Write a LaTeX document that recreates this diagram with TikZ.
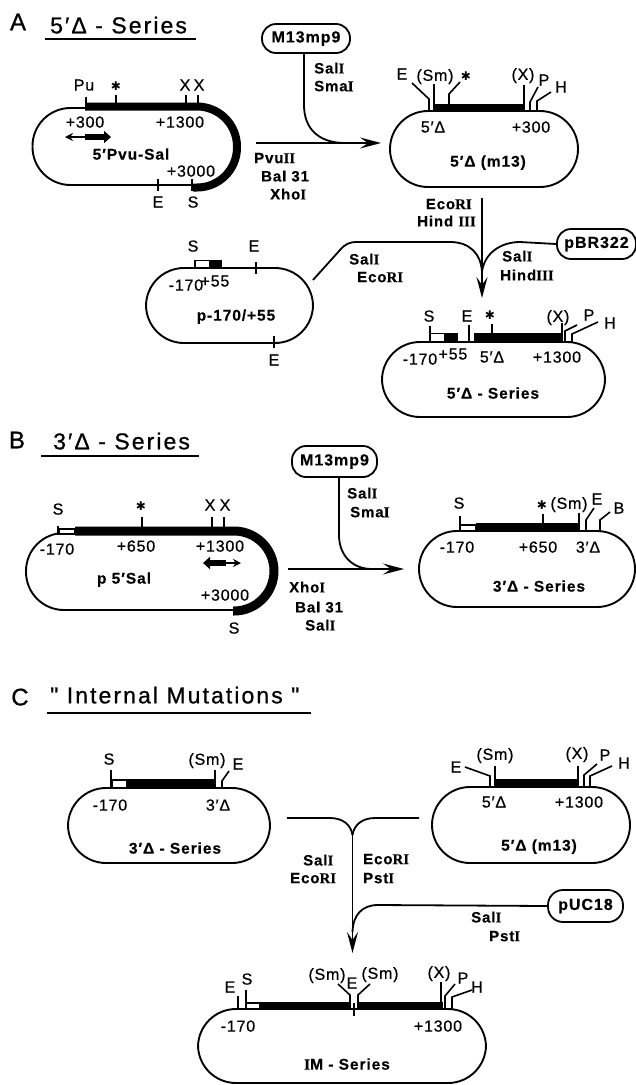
\documentclass[tikz,border=0pt]{standalone}
\usepackage{fontspec}
\setmainfont{Liberation Sans}
\newfontfamily\lsp[LetterSpace=5,FakeBold=0.6]{Liberation Sans}
\newfontfamily\bsp[LetterSpace=6,FakeBold=0.3]{Liberation Sans Bold}
\newfontfamily\tsp[LetterSpace=9,FakeBold=0.8]{Liberation Sans}
\newfontfamily\serfam[FakeBold=0.3]{Liberation Serif Bold}
\newfontfamily\bigf[FakeBold=0.8]{Liberation Sans}
\newfontfamily\djv{DejaVu Sans}
\newcommand{\rn}[1]{{\serfam #1}}
\newcommand{\stsym}{{\djv\bfseries ✱}}
\usetikzlibrary{arrows.meta}
\tikzset{
  pill/.style={draw,line width=1.9pt,inner sep=0pt,fill=none,minimum width=#1},
  p38/.style={rounded corners=38pt,minimum height=76pt},
  vec/.style={draw,line width=1.8pt,inner sep=0pt,rounded corners=14pt,minimum height=29pt,font=\fontsize{16}{16}\bsp},
  lab/.style={inner sep=0pt,text depth=0pt,font=\fontsize{16}{16}\lsp},
  bname/.style={inner sep=0pt,text depth=0pt,font=\fontsize{15.5}{16}\bsp},
  enz/.style={inner sep=0pt,text depth=0pt,anchor=west,font=\fontsize{15}{16}\bsp},
  big/.style={inner sep=0pt,text depth=0pt,font=\fontsize{24}{24}\bigf},
  ttl/.style={inner sep=0pt,text depth=0pt,anchor=west,font=\fontsize{23}{24}\tsp},
  star/.style={inner sep=0pt,text depth=0pt,font=\fontsize{12}{12}\selectfont},
  ul/.style={line width=2pt},
  tick/.style={line width=1.6pt},
  conn/.style={line width=1.8pt},
  dna/.style={line width=8pt},
  wbar/.style={fill=white,draw=black,line width=1.3pt},
  head/.style={-{Stealth[length=21pt,width=11pt,inset=8pt]}},
}
\begin{document}
\begin{tikzpicture}[x=1pt,y=-1pt]
\useasboundingbox (0,0) rectangle (636,1085);
\fill[white] (0,0) rectangle (636,1085);

%% ---------- A ----------
\node[big] (Aa) at (18,22) {A};
\node[ttl] (Ati) at (50,25) {5′Δ - Series};
\draw[ul] (45,38.5) -- (196,38.5);

\node[pill=204pt,p38,minimum height=77pt] (pvu) at (134.5,146.5) {};
\draw[dna,rounded corners=40pt] (85,106.5) -- (237,106.5) -- (237,187.5) -- (193,187.5);
\draw[tick] (86,97)--(86,108) (116,95)--(116,104) (186,95)--(186,104) (198,95)--(198,104);
\draw[tick] (158,179)--(158,191) (192,179)--(192,191);
\node[lab] (a1) at (84,85) {Pu};
\node[star] (a2) at (116,86) {\stsym};
\node[lab] (a3) at (185,85) {X};
\node[lab] (a4) at (199,85) {X};
\node[lab] (a5) at (85,122) {+300};
\node[lab] (a6) at (180,122) {+1300};
\draw[line width=1.3pt,{Stealth[length=8pt,width=8pt]}-] (65,137) -- (85,137);
\draw[line width=6pt,-{Triangle[length=7pt,width=12pt]}] (85,137) -- (111,137);
\node[bname] (a7) at (131,154) {5′Pvu-Sal};
\node[lab] (a8) at (191,171) {+3000};
\node[lab] (a9) at (158,202) {E};
\node[lab] (a10) at (193,202) {S};
\node[enz] (a11) at (254,158) {Pvu\rn{II}};
\node[enz] (a12) at (261,176) {Bal 31};
\node[enz] (a13) at (270,194) {Xho\rn{I}};

\node[vec,minimum width=88pt] (m13a) at (306,38.5) {M13mp9};
\node[enz] (a14) at (314,68) {Sal\rn{I}};
\node[enz] (a15) at (314,86) {Sma\rn{I}};

\node[pill=188pt,p38] (mA) at (484,149) {};
\coordinate (a16) at (256,143);
\draw[conn,head] (a16) -- (381,143);
\draw[conn] ([xshift=-2pt]m13a.south) -- (304,105) .. controls (304,128) and (318,143) .. (345,143);

\fill[black] (433,103.5) rectangle (525,111);
\draw[tick] (429,110)--(429,99)--(412,83);
\draw[tick] (434,84)--(434,110);
\draw[tick] (449,104)--(449,94)--(460,82);
\draw[tick] (524,85)--(524,108);
\draw[tick] (530,110)--(530,102)--(538,87);
\draw[tick] (537,110)--(537,101)--(551,92);
\node[lab] (b1) at (402,74) {E};
\node[lab] (b2) at (435,75) {(Sm)};
\node[star] (b3) at (466,76) {\stsym};
\node[lab] (b4) at (523,74) {(X)};
\node[lab] (b5) at (544,80) {P};
\node[lab] (b6) at (561,87) {H};
\node[lab] (b7) at (433,127) {5′Δ};
\node[lab] (b8) at (531,127) {+300};
\node[bname] (b9) at (488,161) {5′Δ (m13)};
\node[enz,anchor=east] (b10) at (472,204) {Eco\rn{RI}};
\node[enz,anchor=east] (b11) at (476,221) {Hind \rn{III}};

\node[pill=167pt,p38,minimum height=75pt] (p170) at (229.5,305.5) {};
\node[vec,minimum width=79pt,minimum height=30pt] (pbr) at (596.5,244) {pBR322};
\node[pill=223pt,p38,minimum height=75pt] (sA) at (493.5,379.5) {};
\coordinate (c1) at (482,298);
\coordinate (c0) at (482,198);
\coordinate (c2) at (313,280);
\draw[conn,head] (c0) -- (c1);
\draw[conn] (c2) -- (340,250) .. controls (345,244) and (350,242) .. (356,242) -- (450,242) .. controls (470,242) and (481,254) .. (482,272);
\draw[conn] (pbr.west) -- (520,242) .. controls (500,242) and (484,254) .. (482,272);

\draw[tick] (256,262)--(256,274) (274,336)--(274,348);
\draw[wbar] (195,260.5) rectangle (210,268);
\fill[black] (210,260) rectangle (222,268.5);
\node[lab] (d1) at (193,246) {S};
\node[lab] (d2) at (254,246) {E};
\node[lab] (d3) at (274,360) {E};
\node[lab] (d4) at (186,285) {-170};
\node[lab] (d5) at (215,281) {+55};
\node[bname] (d6) at (236,315) {p-170/+55};
\node[enz] (d7) at (349,259) {Sal\rn{I}};
\node[enz] (d8) at (357,277) {Eco\rn{RI}};
\node[enz] (d9) at (502,256) {Sal\rn{I}};
\node[enz] (d10) at (500,275) {Hind\rn{III}};

\draw[wbar] (430,333.5) rectangle (445,342);
\fill[black] (445,333) rectangle (458,342);
\fill[black] (474,333) rectangle (562,342);
\draw[tick] (430,326)--(430,342) (469,325)--(469,342) (492,324)--(492,334) (562,323)--(562,342);
\draw[tick] (565,342)--(565,331)--(577,325);
\draw[tick] (572,342)--(572,334)--(598,322);
\node[lab] (e1) at (429,316) {S};
\node[lab] (e2) at (467,316) {E};
\node[star] (e3) at (490,315) {\stsym};
\node[lab] (e4) at (558,316) {(X)};
\node[lab] (e5) at (589,315) {P};
\node[lab] (e6) at (610,323) {H};
\node[lab] (e7) at (420,359) {-170};
\node[lab] (e8) at (453,354) {+55};
\node[lab] (e9) at (492,357) {5′Δ};
\node[lab] (e10) at (557,357) {+1300};
\node[bname] (e11) at (493,393) {5′Δ - Series};

%% ---------- B ----------
\node[big] (Bb) at (17,440) {B};
\node[ttl] (Bti) at (53,441) {3′Δ - Series};
\draw[ul] (41,456) -- (199,456);

\node[pill=246pt,p38,minimum height=77pt] (p5) at (149,571.5) {};
\draw[wbar] (59,529) rectangle (75,534);
\draw[line width=9pt,rounded corners=40pt] (75,531) -- (274,531) -- (274,611) -- (233,611);
\draw[tick] (58,526)--(58,535) (142,517)--(142,527) (212,517)--(212,527) (224,517)--(224,527);
\node[lab] (f1) at (58,509) {S};
\node[star] (f2) at (141,506) {\stsym};
\node[lab] (f3) at (210,505) {X};
\node[lab] (f4) at (225,505) {X};
\node[lab] (f5) at (57,549) {-170};
\node[lab] (f6) at (136,546) {+650};
\node[lab] (f7) at (220,546) {+1300};
\draw[line width=6pt,{Triangle[length=7pt,width=12pt]}-] (203,563) -- (226,563);
\draw[line width=1.3pt,-{Stealth[length=8pt,width=8pt]}] (226,563) -- (241,563);
\node[bname] (f8) at (124,578) {p 5′Sal};
\node[lab] (f9) at (225,595) {+3000};
\node[lab] (f10) at (234,628) {S};
\node[enz] (f11) at (289,587) {Xho\rn{I}};
\node[enz] (f12) at (295,607) {Bal 31};
\node[enz] (f13) at (305,625) {Sal\rn{I}};

\node[vec,minimum width=85pt,minimum height=31pt] (m13b) at (334.5,461.5) {M13mp9};
\node[enz] (f14) at (347,493) {Sal\rn{I}};
\node[enz] (f15) at (350,512) {Sma\rn{I}};

\node[pill=216pt,p38] (sB) at (527,569) {};
\coordinate (f16) at (288,569);
\draw[conn,head] (f16) -- (404,569);
\draw[conn] ([xshift=4.5pt]m13b.south) -- (339,535) .. controls (339,555) and (352,569) .. (372,569);

\draw[wbar] (460,525) rectangle (476,531);
\fill[black] (476,523) rectangle (580,531.5);
\draw[tick] (460,516)--(460,531) (543,514)--(543,523) (579,513)--(579,531);
\draw[tick] (586,531)--(586,520)--(594,508);
\draw[tick] (600,531)--(600,520)--(610,512);
\node[lab] (g1) at (459,503) {S};
\node[star] (g2) at (542,505) {\stsym};
\node[lab] (g3) at (569,503) {(Sm)};
\node[lab] (g4) at (597,499) {E};
\node[lab] (g5) at (619,508) {B};
\node[lab] (g6) at (457,547) {-170};
\node[lab] (g7) at (538,547) {+650};
\node[lab] (g8) at (588,547) {3′Δ};
\node[bname] (g9) at (539,586) {3′Δ - Series};

%% ---------- C ----------
\node[big] (Cc) at (20,697) {C};
\node[ttl] (Cti) at (50,695) {" Internal Mutations "};
\draw[ul] (47,713) -- (311,713);

\node[pill=202pt,p38,minimum height=75pt] (sC) at (169,825.5) {};
\draw[wbar] (112,780) rectangle (127,788);
\fill[black] (127,779) rectangle (216,788);
\draw[tick] (111,770)--(111,788) (215,770)--(215,788);
\draw[tick] (222,788)--(222,781)--(229,771);
\node[lab] (h1) at (109,759) {S};
\node[lab] (h2) at (207,759) {(Sm)};
\node[lab] (h3) at (238,764) {E};
\node[lab] (h4) at (110,805) {-170};
\node[lab] (h5) at (218,805) {3′Δ};
\node[bname] (h6) at (175,848) {3′Δ - Series};

\node[pill=198pt,p38] (mC) at (531,825) {};
\fill[black] (495,779) rectangle (578,787);
\draw[tick] (490,787)--(490,776)--(465,767);
\draw[tick] (495,766)--(495,787) (578,766)--(578,787);
\draw[tick] (584,787)--(584,775)--(597,764);
\draw[tick] (590,787)--(590,776)--(612,766);
\node[lab] (i1) at (456,767) {E};
\node[lab] (i2) at (495,754) {(Sm)};
\node[lab] (i3) at (577,753) {(X)};
\node[lab] (i4) at (605,755) {P};
\node[lab] (i5) at (624,763) {H};
\node[lab] (i6) at (494,802) {5′Δ};
\node[lab] (i7) at (579,802) {+1300};
\node[bname] (i8) at (539,845) {5′Δ (m13)};

\node[vec,minimum width=75pt,minimum height=32pt,rounded corners=15pt] (puc) at (585.5,906) {pUC18};
\node[pill=288pt,p38,minimum height=74pt] (im) at (342,1046) {};
\coordinate (j1) at (287,818);
\coordinate (j2) at (419,818);
\coordinate (j3) at (352.5,835);
\coordinate (j4) at (352.5,953);
\draw[conn] (j1) -- (330,818) .. controls (343,818) and (351,825) .. (j3);
\draw[conn] (j2) -- (375,818) .. controls (362,818) and (354,825) .. (j3);
\draw[conn,head] (j3) -- (j4);
\draw[conn] (puc.west) -- (378,905) .. controls (362,905) and (353,915) .. (352.5,932);
\node[enz] (j5) at (303,860) {Sal\rn{I}};
\node[enz] (j6) at (290,878) {Eco\rn{RI}};
\node[enz] (j7) at (363,859) {Eco\rn{RI}};
\node[enz] (j8) at (363,878) {Pst\rn{I}};
\node[enz] (j9) at (471,917) {Sal\rn{I}};
\node[enz] (j10) at (489,936) {Pst\rn{I}};

\draw[wbar] (246,1003) rectangle (260,1009);
\fill[black] (260,1002) rectangle (351,1010);
\fill[black] (357,1002) rectangle (443,1010);
\draw[tick] (238,996)--(238,1009) (246,990)--(246,1009);
\draw[tick] (350,1008)--(350,995)--(338,984);
\draw[line width=2pt] (354,1003)--(354,1016);
\draw[tick] (358,1008)--(358,995)--(370,984);
\draw[tick] (441,982)--(441,1009);
\draw[tick] (445,1009)--(445,996)--(455,984);
\draw[tick] (452,1009)--(452,997)--(472,990);
\node[lab] (k1) at (230,987) {E};
\node[lab] (k2) at (247,979) {S};
\node[lab] (k3) at (327,974) {(Sm)};
\node[lab] (k4) at (352,983) {E};
\node[lab] (k5) at (380,973) {(Sm)};
\node[lab] (k6) at (439,972) {(X)};
\node[lab] (k7) at (463,978) {P};
\node[lab] (k8) at (477,987) {H};
\node[lab] (k9) at (238,1026) {-170};
\node[lab] (k10) at (438,1026) {+1300};
\node[bname] (k11) at (347,1064) {\rn{I}M - Series};
\end{tikzpicture}
\end{document}
